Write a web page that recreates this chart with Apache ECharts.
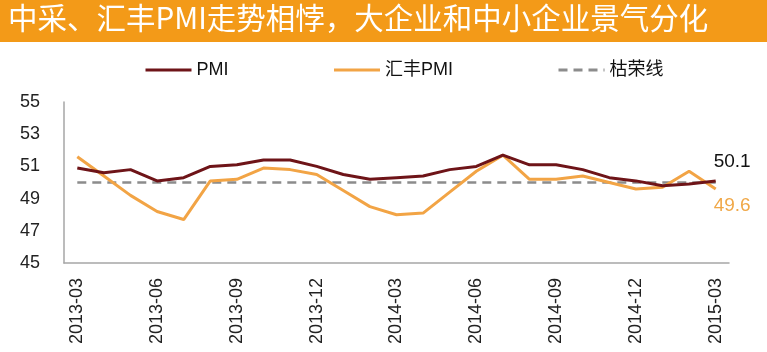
<!DOCTYPE html>
<html>
<head>
<meta charset="utf-8">
<script src="https://cdn.jsdelivr.net/npm/echarts@6/dist/echarts.min.js"></script>
<style>
  html, body { margin: 0; padding: 0; background: #fff; }
  #chart { width: 767px; height: 352px; }
</style>
</head>
<body>
<div id="chart"></div>
<script>
// months, 2013-03 .. 2015-03
var months = [
  '2013-03', '2013-04', '2013-05', '2013-06', '2013-07', '2013-08', '2013-09',
  '2013-10', '2013-11', '2013-12', '2014-01', '2014-02', '2014-03', '2014-04',
  '2014-05', '2014-06', '2014-07', '2014-08', '2014-09', '2014-10', '2014-11',
  '2014-12', '2015-01', '2015-02', '2015-03'
];
// official (中采) PMI
var pmi = [
  50.9, 50.6, 50.8, 50.1, 50.3, 51.0, 51.1, 51.4, 51.4, 51.0, 50.5, 50.2, 50.3,
  50.4, 50.8, 51.0, 51.7, 51.1, 51.1, 50.8, 50.3, 50.1, 49.8, 49.9, 50.1
];
// HSBC PMI
var hsbc = [
  51.6, 50.4, 49.2, 48.2, 47.7, 50.1, 50.2, 50.9, 50.8, 50.5, 49.5, 48.5, 48.0,
  48.1, 49.4, 50.7, 51.7, 50.2, 50.2, 50.4, 50.0, 49.6, 49.7, 50.7, 49.6
];
var boomLine = 50;
var yTicks = [45, 47, 49, 51, 53, 55];

var titleText = '中采、汇丰PMI走势相悖，大企业和中小企业景气分化';
var latinFont = '"Liberation Sans", Arial, sans-serif';
var cjkFont = '"Noto Sans CJK SC", sans-serif';

function endLabel(color, dy) {
  return {
    show: true, offset: [-10, dy], color: color,
    fontSize: 19, fontFamily: latinFont,
    formatter: function (p) { return p.value.toFixed(1); }
  };
}

var chart = echarts.init(document.getElementById('chart'));
chart.setOption({
  animation: false,
  backgroundColor: '#fff',
  graphic: [
    { type: 'rect', shape: { x: 0, y: 0, width: 767, height: 42 }, style: { fill: '#F39A18' } },
    { type: 'text', left: 8, top: 3,
      style: { text: titleText, fill: '#fff', font: '29.5px ' + cjkFont } }
  ],
  legend: {
    left: 139, top: 56,
    itemWidth: 46, itemHeight: 14, itemGap: 104,
    itemStyle: { opacity: 0 },
    lineStyle: { width: 3 },
    textStyle: { fontSize: 18, color: '#111', fontFamily: latinFont + ', ' + cjkFont },
    data: ['PMI', '汇丰PMI', '枯荣线']
  },
  grid: { left: 64, right: 38, top: 102, bottom: 89 },
  xAxis: {
    type: 'category',
    data: months,
    boundaryGap: true,
    axisLine: { lineStyle: { color: '#A6A6A6', width: 1.5 } },
    axisTick: { show: false },
    axisLabel: {
      interval: 2, rotate: 90, margin: 15,
      fontSize: 18, color: '#222', fontFamily: latinFont
    }
  },
  yAxis: {
    type: 'value',
    min: yTicks[0], max: yTicks[yTicks.length - 1], interval: 2,
    axisLine: { show: true, lineStyle: { color: '#A6A6A6', width: 1.5 } },
    axisTick: { show: false },
    splitLine: { show: false },
    axisLabel: { margin: 24, fontSize: 18, color: '#222', fontFamily: latinFont }
  },
  series: [
    {
      name: 'PMI', type: 'line', symbol: 'none',
      data: pmi,
      lineStyle: { color: '#6E1418', width: 3 },
      itemStyle: { color: '#6E1418' },
      endLabel: endLabel('#111', -19),
      z: 3
    },
    {
      name: '汇丰PMI', type: 'line', symbol: 'none',
      data: hsbc,
      lineStyle: { color: '#F2A445', width: 3 },
      itemStyle: { color: '#F2A445' },
      endLabel: endLabel('#F0A848', 17),
      z: 2
    },
    {
      name: '枯荣线', type: 'line', symbol: 'none',
      data: months.map(function () { return boomLine; }),
      lineStyle: { color: '#8C8C8C', width: 2.5, type: [9, 6] },
      itemStyle: { color: '#8C8C8C' },
      z: 1
    }
  ]
});
</script>
</body>
</html>
